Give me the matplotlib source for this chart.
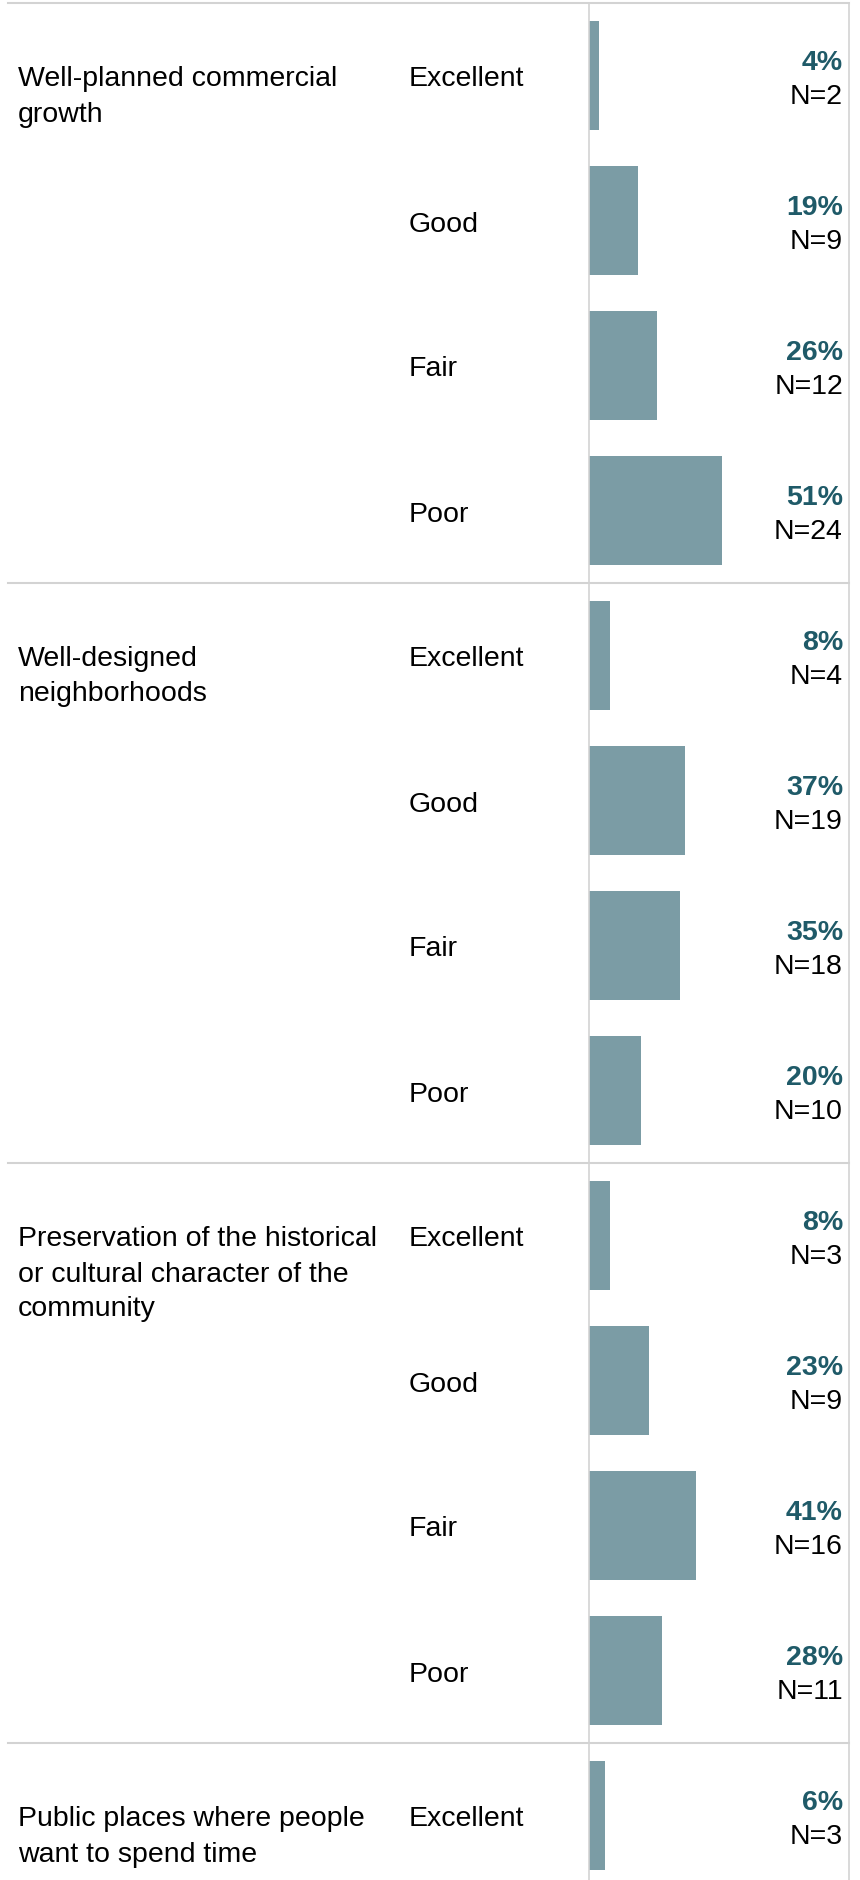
import numpy as np
import matplotlib.pyplot as plt
from matplotlib.transforms import blended_transform_factory
from matplotlib.lines import Line2D

plt.rcParams['font.family'] = ['Liberation Sans', 'DejaVu Sans']

# data
groups = ["Well-planned commercial\ngrowth",
          "Well-designed\nneighborhoods",
          "Preservation of the historical\nor cultural character of the\ncommunity",
          "Public places where people\nwant to spend time"]
ratings = ["Excellent", "Good", "Fair", "Poor"]
pct_commercial = [4, 19, 26, 51]
n_commercial = [2, 9, 12, 24]
pct_neighborhoods = [8, 37, 35, 20]
n_neighborhoods = [4, 19, 18, 10]
pct_historic = [8, 23, 41, 28]
n_historic = [3, 9, 16, 11]
pct_public = [6]
n_public = [3]

pcts = [pct_commercial, pct_neighborhoods, pct_historic, pct_public]
ns = [n_commercial, n_neighborhoods, n_historic, n_public]

W, H = 860, 1881
row_px = 145
top_px = 4
fs = 20.5
bar_col = '#7b9ca5'
pct_col = '#1f5a68'
grid_col = '#d3d3d3'

fig = plt.figure(figsize=(W / 100, H / 100), dpi=100)
x0, x1 = 589, 849
ax = fig.add_axes([x0 / W, 0, (x1 - x0) / W, (H - top_px) / H])
nrows_vis = (H - top_px) / row_px
ax.set_xlim(0, 100)
ax.set_ylim(nrows_vis, 0)
ax.set_xticks([])
ax.set_yticks([])
for s in ['top', 'bottom']:
    ax.spines[s].set_visible(False)
for s in ['left', 'right']:
    ax.spines[s].set_color(grid_col)
    ax.spines[s].set_linewidth(1.2)

tr = blended_transform_factory(fig.transFigure, ax.transData)
px = lambda v: v / W
cap = 10 / row_px

row = 0
for g, label in enumerate(groups):
    start = row
    ax.add_line(Line2D([px(8), px(x1)], [start, start], transform=tr,
                       color=grid_col, lw=1.5, clip_on=False))
    # each line of the group label drawn on its own, first line level with "Excellent"
    for j, line in enumerate(label.split("\n")):
        ax.text(px(18), start + 0.5 + cap + j * 35 / row_px, line, transform=tr,
                fontsize=fs, va='baseline', ha='left')
    for k, (p, n) in enumerate(zip(pcts[g], ns[g])):
        yc = row + 0.5
        ax.barh(yc, p, height=109 / row_px, color=bar_col)
        ax.text(px(409), yc + cap, ratings[k], transform=tr, fontsize=fs,
                va='baseline', ha='left')
        ax.text(px(843), yc - 16.5 / row_px + cap, f"{p}%", transform=tr,
                fontsize=fs, fontweight='bold', color=pct_col,
                va='baseline', ha='right')
        ax.text(px(843), yc + 17.5 / row_px + cap, f"N={n}", transform=tr,
                fontsize=fs, va='baseline', ha='right')
        row += 1
    row = start + 4

fig.savefig('out.png', dpi=100)
